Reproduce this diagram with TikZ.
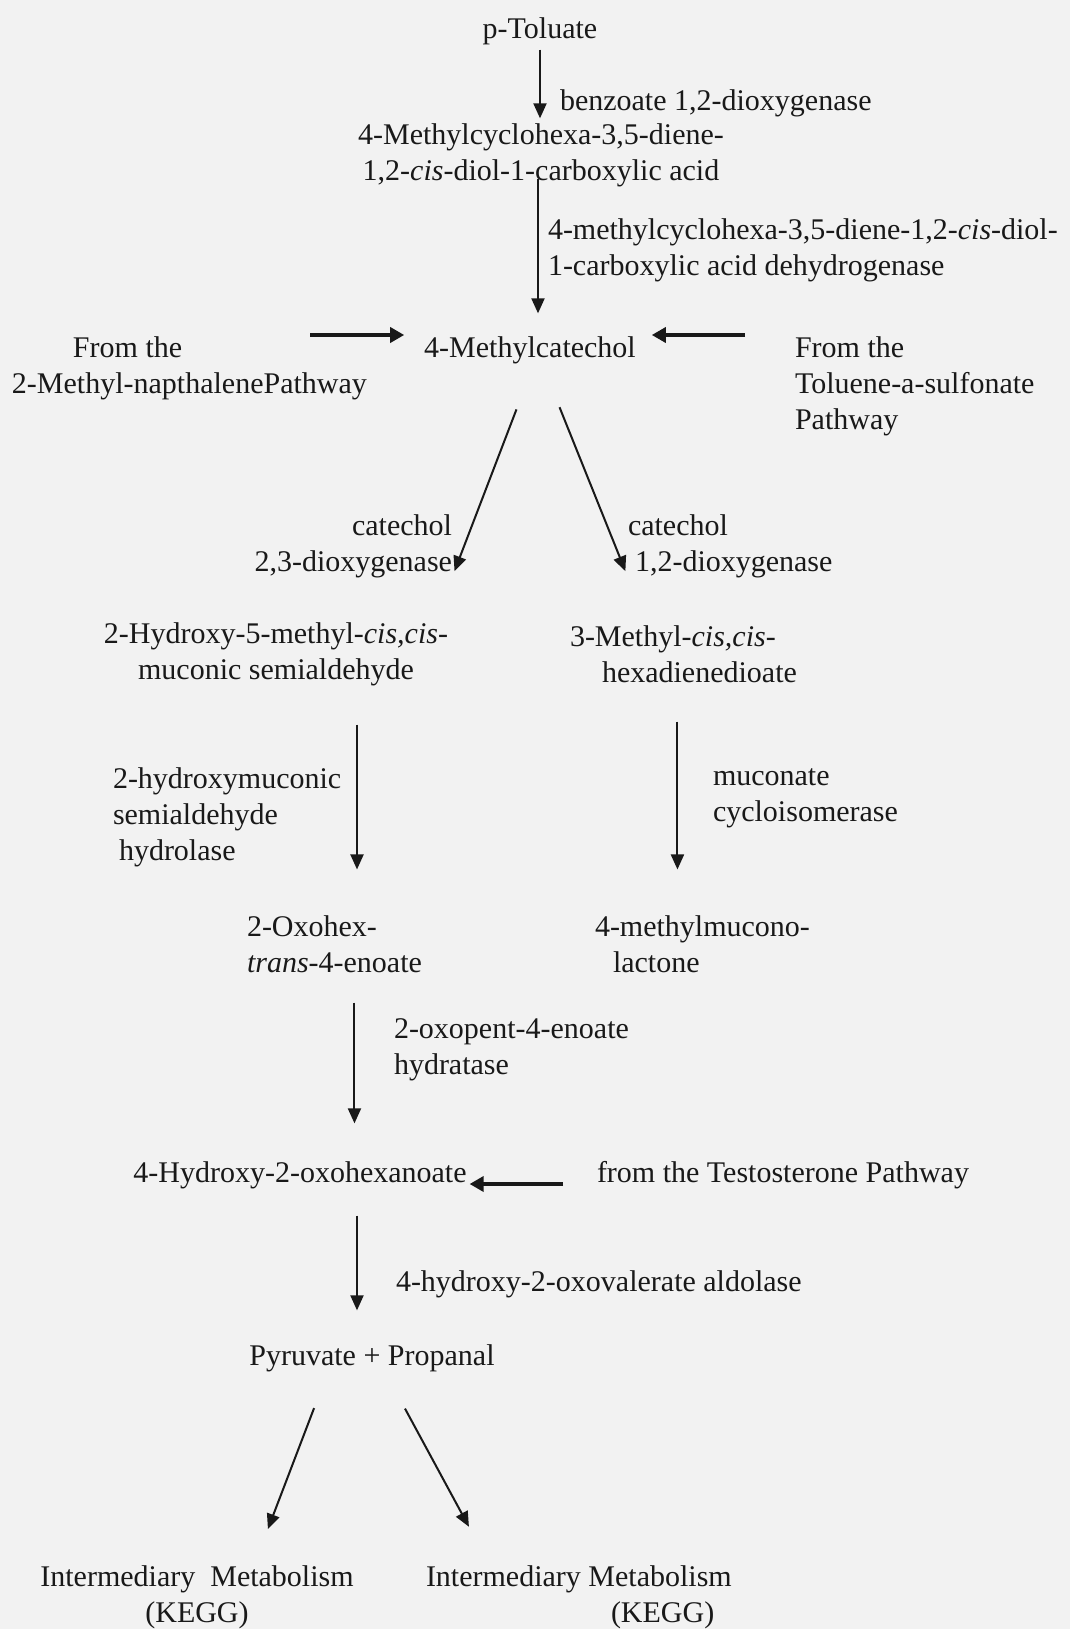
\documentclass[tikz,border=0pt]{standalone}
\usepackage{fontspec}
\setmainfont{Liberation Serif}
\usetikzlibrary{arrows.meta}

\begin{document}
\begin{tikzpicture}[x=1pt, y=-1pt,
	every node/.style={inner sep=0pt, outer sep=0pt, text=black!90, font=\fontsize{30}{36}\selectfont},
	rxn/.style={line width=2pt, draw=black!90, -{Triangle[length=15pt, width=13pt]}},
	feed/.style={line width=3.4pt, draw=black!90, -{Triangle[length=14pt, width=15pt]}}]
\fill[black!5] (0,0) rectangle (1070,1629);
\useasboundingbox (0,0) rectangle (1070,1629);

	\node(pToluate) at (540,31){p-Toluate};
	\node[align=center](diolAcid) at (541,155){4-Methylcyclohexa-3,5-diene-\\1,2-\textit{cis}-diol-1-carboxylic acid};
	\node[anchor=west](benzoateLabel) at (560,103){benzoate 1,2-dioxygenase};
	\node[anchor=west, align=left](dehydrogenaseLabel) at (548,250){4-methylcyclohexa-3,5-diene-1,2-\textit{cis}-diol-\\1-carboxylic acid dehydrogenase};

	\node(methylCatechol) at (530,350){4-Methylcatechol};
	\node[anchor=west, align=left](fromNaph) at (12,368){\hspace*{61pt}From the\\2-Methyl-napthalenePathway};
	\node[anchor=west, align=left](fromTol) at (795,386){From the\\Toluene-a-sulfonate\\Pathway};
	\coordinate(naphTail) at (310,335);
	\coordinate(tolTail) at (745,335);

	\node[anchor=east, align=right](dioxLeft) at (452,546){catechol\\2,3-dioxygenase};
	\node[anchor=west, align=left](dioxRight) at (628,546){catechol\\\hspace*{7pt}1,2-dioxygenase};

	\node[align=center](semialdehyde) at (276,654){2-Hydroxy-5-methyl-\textit{cis,cis}-\\muconic semialdehyde};
	\node[anchor=west, align=left](hexadienedioate) at (570,654){3-Methyl-\textit{cis,cis}-\\\hspace*{32pt}hexadienedioate};
	\node[anchor=west, align=left](hydrolaseLabel) at (113,817){2-hydroxymuconic\\semialdehyde\\\hspace*{6pt}hydrolase};
	\node[anchor=west, align=left](isomeraseLabel) at (713,798){muconate\\cycloisomerase};

	\node[anchor=west, align=left](oxohexenoate) at (247,944){2-Oxohex-\\\textit{trans}-4-enoate};
	\node[anchor=west, align=left](muconolactone) at (595,944){4-methylmucono-\\\hspace*{18pt}lactone};
	\node[anchor=west, align=left](hydrataseLabel) at (394,1050){2-oxopent-4-enoate\\hydratase};

	\node(oxohexanoate) at (300,1175){4-Hydroxy-2-oxohexanoate};
	\node[anchor=west](fromTesto) at (597,1175){from the Testosterone Pathway};
	\node[anchor=west](aldolaseLabel) at (396,1284){4-hydroxy-2-oxovalerate aldolase};
	\node(pyruvate) at (372,1358){Pyruvate + Propanal};
	\node[align=center](keggLeft) at (197,1597){Intermediary\ \ Metabolism\\(KEGG)};
	\node[anchor=west, align=left](keggRight) at (426,1597){Intermediary Metabolism\\\hspace*{185pt}(KEGG)};

	\draw[rxn, shorten <=5pt, shorten >=5pt] (pToluate.south) -- (pToluate.south |- diolAcid.north);
	\coordinate(diolOut) at ([xshift=-3pt]diolAcid.south);
	\draw[rxn, shorten <=-8pt, shorten >=23pt] (diolOut) -- (diolOut |- methylCatechol.north);

	\draw[feed, shorten >=20pt] (naphTail) -- (naphTail -| methylCatechol.west);
	\draw[feed, shorten >=16pt] (tolTail) -- (tolTail -| methylCatechol.east);

	\draw[rxn, shorten <=49pt, shorten >=7pt] ([xshift=4pt]methylCatechol.south) -- (dioxLeft.south east);
	\draw[rxn, shorten <=47pt, shorten >=7pt] ([xshift=12pt]methylCatechol.south) -- (dioxRight.south west);

	\coordinate(semiOut) at ([xshift=81pt]semialdehyde.south);
	\draw[rxn, shorten <=39pt, shorten >=46pt] (semiOut) -- (semiOut |- oxohexenoate.north);
	\coordinate(hexaOut) at ([xshift=-6pt]hexadienedioate.south);
	\draw[rxn, shorten <=39pt, shorten >=46pt] (hexaOut) -- (hexaOut |- muconolactone.north);

	\coordinate(oxoOut) at ([xshift=20pt]oxohexenoate.south);
	\draw[rxn, shorten <=30pt, shorten >=38pt] (oxoOut) -- (oxoOut |- oxohexanoate.north);
	\coordinate(testoTail) at ([yshift=-9pt]fromTesto.west);
	\draw[feed, shorten <=34pt, shorten >=3pt] (testoTail) -- (testoTail -| oxohexanoate.east);

	\coordinate(hoxOut) at ([xshift=57pt]oxohexanoate.south);
	\draw[rxn, shorten <=27pt, shorten >=34pt] (hoxOut) -- (hoxOut |- pyruvate.north);

	\draw[rxn, shorten <=39pt, shorten >=39pt] ([xshift=-44pt]pyruvate.south) -- ([xshift=57pt]keggLeft.north);
	\draw[rxn, shorten <=42pt, shorten >=44pt] ([xshift=13pt]pyruvate.south) -- ([xshift=-89pt]keggRight.north);
\end{tikzpicture}
\end{document}
